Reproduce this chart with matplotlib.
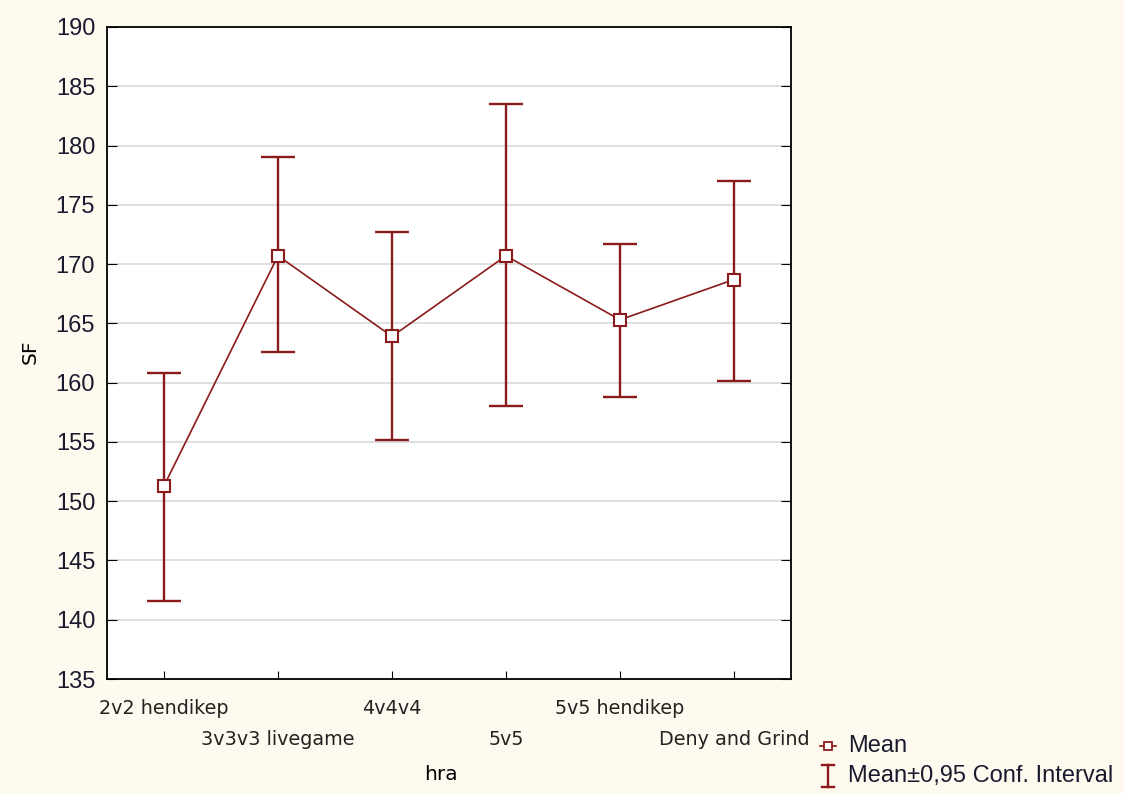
import matplotlib
matplotlib.use("Agg")
import matplotlib.pyplot as plt
from matplotlib.lines import Line2D

# data
hra = ["2v2 hendikep", "3v3v3 livegame", "4v4v4", "5v5", "5v5 hendikep", "Deny and Grind"]
mean = [151.3, 170.7, 163.9, 170.7, 165.3, 168.7]
upper = [160.8, 179.0, 172.7, 183.5, 171.7, 177.0]
lower = [141.6, 162.6, 155.2, 158.0, 158.8, 160.1]

col = "#8B1A1A"
bg = "#FFFAF0"

fig = plt.figure(figsize=(11.24, 7.94), dpi=100, facecolor=bg)
ax = fig.add_axes([0.0952, 0.1448, 0.6085, 0.8212])
ax.set_facecolor("white")

x = list(range(len(hra)))
err_lo = [m - l for m, l in zip(mean, lower)]
err_hi = [u - m for m, u in zip(mean, upper)]

ax.plot(x, mean, color=col, lw=1.2, zorder=3)
ax.errorbar(x, mean, yerr=[err_lo, err_hi], fmt="none", ecolor=col,
            elinewidth=1.7, capsize=12, capthick=1.7, zorder=3)
ax.plot(x, mean, ls="none", marker="s", ms=9, mfc="white", mec=col, mew=1.5, zorder=4)

ax.set_xlim(-0.5, 5.5)
ax.set_ylim(135, 190)
ax.set_yticks(range(135, 191, 5))
ax.grid(axis="y", color="#d9d9d9", lw=1.2)
ax.set_axisbelow(True)

ax.set_xticks(x)
ax.set_xticklabels([])
for i, name in enumerate(hra):
    off = -0.045 if i % 2 == 0 else -0.092
    ax.text(i, off, name, transform=ax.get_xaxis_transform(), ha="center", va="center",
            fontsize=13.8, family="DejaVu Sans", color="#222222")

ax.tick_params(axis="y", direction="in", length=7, labelsize=17, left=True, right=True,
               labelcolor="#1a1a2e", pad=8.5)
ax.tick_params(axis="x", direction="in", length=6)
for lab in ax.get_yticklabels():
    lab.set_family("Liberation Sans")
for s in ax.spines.values():
    s.set_color("black")
    s.set_linewidth(1.3)

fig.text(0.392, 0.024, "hra", ha="center", va="center", fontsize=14.5, family="DejaVu Sans")
fig.text(0.027, 0.557, "SF", ha="center", va="center", rotation=90, fontsize=14.5,
         family="DejaVu Sans")

# legend drawn by hand: marker line, error bar symbol, labels
W, H = 1124.0, 794.0
lx = 828 / W
y1 = 1 - 746 / H
y2 = 1 - 776 / H
fig.add_artist(Line2D([lx - 8 / W, lx + 8 / W], [y1, y1], color=col, lw=1.2))
fig.add_artist(Line2D([lx], [y1], marker="s", ms=6, mfc="white", mec=col, mew=1.3, color=col))
fig.add_artist(Line2D([lx, lx], [y2 - 11 / H, y2 + 11 / H], color=col, lw=1.7))
fig.add_artist(Line2D([lx - 6 / W, lx + 6 / W], [y2 + 11 / H, y2 + 11 / H], color=col, lw=1.7))
fig.add_artist(Line2D([lx - 6 / W, lx + 6 / W], [y2 - 11 / H, y2 - 11 / H], color=col, lw=1.7))
fig.text(848 / W, y1, "Mean", ha="left", va="center", fontsize=17, family="Liberation Sans",
         color="#1a1a2e")
fig.text(848 / W, y2, "Mean±0,95 Conf. Interval", ha="left", va="center", fontsize=17,
         family="Liberation Sans", color="#1a1a2e")

fig.savefig("out.png", dpi=100, facecolor=bg)
